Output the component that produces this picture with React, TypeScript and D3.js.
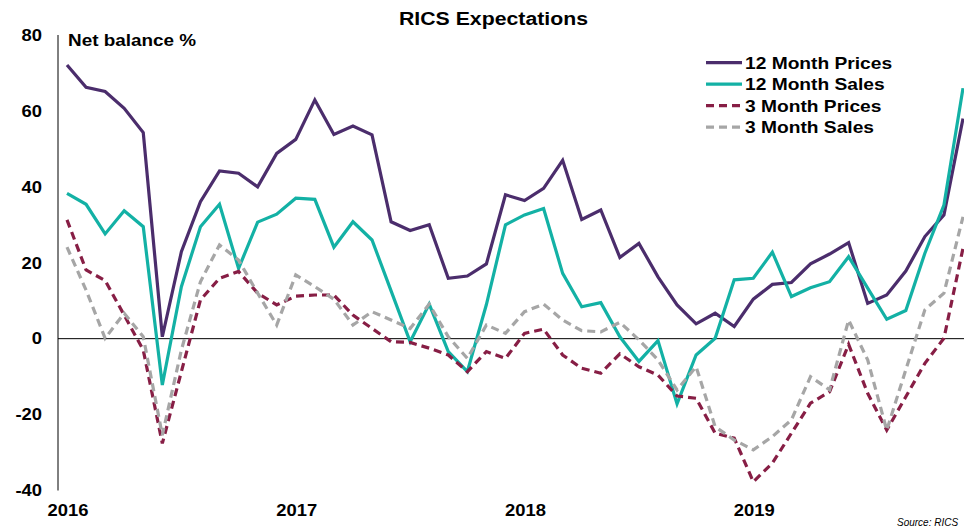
import React from "react";
import * as d3 from "d3";

const W = 964;
const H = 528;

const yTicks = [80, 60, 40, 20, 0, -20, -40];
const yearLabels = ["2016", "2017", "2018", "2019"];

// Monthly Jan 2016 .. Dec 2019
const prices12 = [72.1, 66.2, 65.1, 60.7, 54.3, 0.5, 22.9, 36.1, 44.2, 43.6, 40.0, 48.8,
  52.5, 62.9, 53.8, 56.0, 53.7, 30.8, 28.5, 30.0, 15.9, 16.5, 19.7, 37.9,
  36.4, 39.6, 47.0, 31.4, 33.9, 21.4, 25.1, 16.3, 8.9, 3.9, 6.7, 3.2,
  10.4, 14.3, 14.8, 19.7, 22.3, 25.3, 9.3, 11.5, 17.8, 26.9, 32.6, 58];
const sales12 = [38.3, 35.4, 27.6, 33.7, 29.5, -12.2, 13.7, 29.5, 35.4, 18.5, 30.7, 32.8,
  37.0, 36.7, 24.1, 30.8, 26.0, 12.6, -0.8, 9.1, -3.4, -8.7, 9.0, 30.0,
  32.6, 34.3, 17.2, 8.4, 9.5, 0.5, -6.0, -0.5, -17.2, -4.3, 0.1, 15.5,
  15.9, 22.8, 11.1, 13.4, 15.0, 21.6, 13.3, 5.1, 7.4, 22.5, 35.2, 66];
const prices3 = [31.3, 18.1, 15.3, 6.2, -3.0, -27.6, -8.7, 10.2, 15.9, 17.7, 12.0, 8.9,
  11.2, 11.5, 11.5, 6.2, 2.7, -0.8, -1.0, -2.5, -4.3, -8.7, -3.4, -5.2,
  1.4, 2.5, -4.3, -7.8, -9.1, -4.0, -7.4, -9.6, -15.1, -15.7, -24.9, -26.2,
  -37.7, -32.8, -24.9, -17.0, -14.0, -1.5, -14.4, -24.1, -15.3, -6.5, 0.1, 23.8];
const sales3 = [24.1, 12.8, 0.1, 6.7, 0.5, -25.4, -3.0, 15.0, 24.7, 20.7, 12.0, 3.6,
  16.8, 13.7, 10.4, 3.6, 7.1, 4.9, 2.7, 9.1, 0.5, -5.2, 3.6, 1.4,
  7.1, 9.1, 4.9, 2.1, 1.8, 4.3, -0.3, -5.6, -13.5, -7.4, -23.2, -26.7,
  -29.3, -25.8, -21.4, -10.0, -13.5, 4.9, -5.6, -24.1, -8.2, 7.6, 12.0, 32.1];

const seriesNames = ["12 Month Prices", "12 Month Sales", "3 Month Prices", "3 Month Sales"];
const seriesData = [prices12, sales12, prices3, sales3];
const seriesColors = ["#4B2D6C", "#13B1A5", "#871E45", "#A6A6A6"];
const seriesDash = [null, null, "8,5", "8,5"];

const SX = 1.15;

export default function App() {
  const x = d3.scaleLinear().domain([0, 47]).range([67, 963]);
  const y = d3.scaleLinear().domain([-40, 80]).range([490.5, 35]);
  const line = d3
    .line<number>()
    .x((_, i) => x(i))
    .y((d) => y(d));
  const font = "Arial, 'Liberation Sans', Helvetica, sans-serif";

  return (
    <svg
      width={W}
      height={H}
      style={{ position: "absolute", left: 0, top: 0, background: "#fff" }}
      fontFamily={font}
    >
      <text
        x={399}
        y={25}
        fontSize={18}
        fontWeight="bold"
        textLength={189}
        lengthAdjust="spacingAndGlyphs"
      >
        RICS Expectations
      </text>
      {/* axes */}
      <line x1={58} x2={58} y1={y(80)} y2={y(-40)} stroke="#000" strokeWidth={1} />
      <line x1={58} x2={W} y1={y(0)} y2={y(0)} stroke="#000" strokeWidth={1} />
      {yTicks.map((t) => (
        <text
          key={t}
          transform={`translate(42, ${y(t) + 5.8}) scale(${SX},1)`}
          textAnchor="end"
          fontSize={16}
          fontWeight="bold"
        >
          {t}
        </text>
      ))}
      <text
        x={68}
        y={46}
        fontSize={16}
        fontWeight="bold"
        textLength={128}
        lengthAdjust="spacingAndGlyphs"
      >
        Net balance %
      </text>
      {yearLabels.map((lab, i) => (
        <text
          key={lab}
          transform={`translate(${x(i * 12) + 1}, 516) scale(${SX},1)`}
          textAnchor="middle"
          fontSize={16}
          fontWeight="bold"
        >
          {lab}
        </text>
      ))}
      {/* series */}
      {seriesData.map((d, k) => (
        <path
          key={seriesNames[k]}
          d={line(d) || ""}
          fill="none"
          stroke={seriesColors[k]}
          strokeWidth={3.2}
          strokeDasharray={seriesDash[k] || undefined}
          strokeLinejoin="miter"
        />
      ))}
      {/* legend */}
      {seriesNames.map((n, k) => (
        <g key={n} transform={`translate(0, ${62.7 + k * 21.5})`}>
          <line
            x1={706}
            x2={742}
            y1={0}
            y2={0}
            stroke={seriesColors[k]}
            strokeWidth={3.2}
            strokeDasharray={seriesDash[k] || undefined}
          />
          <text transform={`translate(745, 5.8) scale(1.2,1)`} fontSize={16} fontWeight="bold">
            {n}
          </text>
        </g>
      ))}
      <text x={897} y={526} fontSize={10} fontStyle="italic">
        Source: RICS
      </text>
    </svg>
  );
}
